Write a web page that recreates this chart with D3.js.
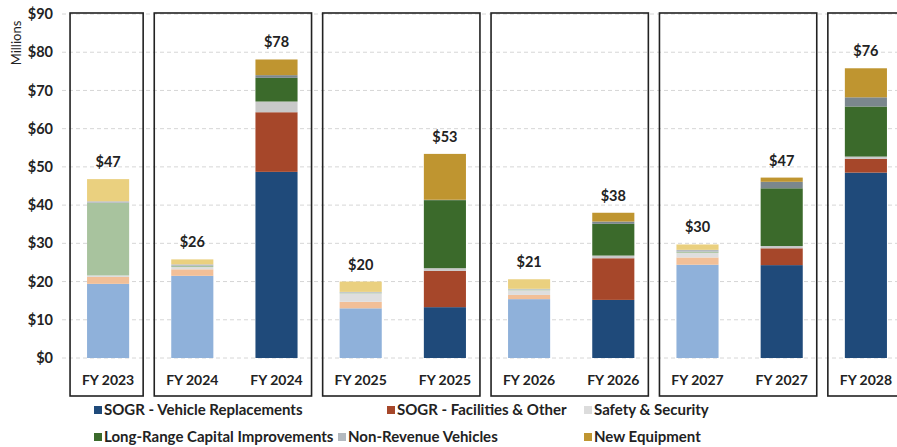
<!DOCTYPE html>
<html>
<head>
<meta charset="utf-8">
<script src="https://cdn.jsdelivr.net/npm/d3@7.9.0/dist/d3.min.js"></script>
<style>
  body { margin: 0; background: #fff; }
  svg { display: block; font-family: Lato, "Open Sans", sans-serif; }
</style>
</head>
<body>
<svg id="chart" width="897" height="447"></svg>
<script>
const categories = ["FY 2023", "FY 2024", "FY 2024", "FY 2025", "FY 2025", "FY 2026", "FY 2026", "FY 2027", "FY 2027", "FY 2028"];
const shade = ["light", "light", "dark", "light", "dark", "light", "dark", "light", "dark", "dark"];
const groups = [[0], [1, 2], [3, 4], [5, 6], [7, 8], [9]];
const series = ["SOGR - Vehicle Replacements", "SOGR - Facilities & Other", "Safety & Security",
  "Long-Range Capital Improvements", "Non-Revenue Vehicles", "New Equipment"];
const vehicleReplacements = [19.4, 21.5, 48.7, 13.0, 13.3, 15.4, 15.2, 24.4, 24.3, 48.5];
const facilitiesOther     = [1.8, 1.7, 15.6, 1.7, 9.5, 1.1, 10.9, 1.9, 4.4, 3.6];
const safetySecurity      = [0.4, 0.6, 2.8, 2.2, 0.7, 1.2, 0.7, 1.2, 0.6, 0.6];
const longRange           = [19.0, 0.3, 6.2, 0.2, 17.8, 0.2, 8.3, 0.3, 15.1, 13.1];
const nonRevenue          = [0.4, 0.4, 0.7, 0.2, 0.1, 0.2, 0.6, 0.5, 1.7, 2.4];
const newEquipment        = [5.8, 1.3, 4.1, 2.7, 12.0, 2.5, 2.3, 1.4, 1.1, 7.6];
const yTicks = [0, 10, 20, 30, 40, 50, 60, 70, 80, 90];

const darkColors  = ["#1f4a7a", "#a6472a", "#c9c9c9", "#3b6a2b", "#7b878d", "#bf9530"];
const lightColors = ["#8fb1da", "#f2bf97", "#dedede", "#a8c39e", "#b3b9bf", "#ead07f"];

const values = [vehicleReplacements, facilitiesOther, safetySecurity, longRange, nonRevenue, newEquipment];
const rows = categories.map((c, i) => {
  const r = { idx: i, label: c, shade: shade[i] };
  series.forEach((s, k) => r[s] = values[k][i]);
  return r;
});

const svg = d3.select("#chart");
const x = d3.scaleBand().domain(d3.range(categories.length)).range([66, 908])
  .paddingInner(0.5).paddingOuter(0.25);
const y = d3.scaleLinear().domain([0, 90]).range([358, 14]);

// gridlines
svg.append("g").selectAll("line").data(yTicks).join("line")
  .attr("x1", 62).attr("x2", 897)
  .attr("y1", d => y(d)).attr("y2", d => y(d))
  .attr("stroke", "#d6d6d6").attr("stroke-dasharray", "4,3");

// y axis
const yAxis = svg.append("g").attr("transform", "translate(56,0)")
  .call(d3.axisLeft(y).tickValues(yTicks).tickFormat(d => "$" + d).tickSize(0).tickPadding(3));
yAxis.select(".domain").remove();
yAxis.selectAll("text").attr("font-size", 14.5).attr("font-weight", "bold").attr("fill", "#222")
  .attr("font-family", "Lato, sans-serif");

svg.append("text").attr("transform", "translate(21,43) rotate(-90)")
  .attr("text-anchor", "middle").attr("font-size", 13).attr("fill", "#222").text("Millions");

// stacked bars
const stack = d3.stack().keys(series)(rows);
svg.append("g").selectAll("g").data(stack).join("g")
  .each(function(layer, k) {
    d3.select(this).selectAll("rect").data(layer).join("rect")
      .attr("x", d => x(d.data.idx))
      .attr("width", x.bandwidth())
      .attr("y", d => y(d[1]))
      .attr("height", d => y(d[0]) - y(d[1]))
      .attr("fill", d => d.data.shade === "dark" ? darkColors[k] : lightColors[k]);
  });

// totals
svg.append("g").selectAll("text").data(rows).join("text")
  .attr("x", d => x(d.idx) + x.bandwidth() / 2)
  .attr("y", d => y(d3.sum(series, s => d[s])) - 12)
  .attr("text-anchor", "middle").attr("font-size", 14.5).attr("font-weight", "bold").attr("fill", "#222")
  .text(d => "$" + Math.round(d3.sum(series, s => d[s])));

// category labels
svg.append("g").selectAll("text").data(rows).join("text")
  .attr("x", d => x(d.idx) + x.bandwidth() / 2).attr("y", 385)
  .attr("text-anchor", "middle").attr("font-size", 14).attr("font-weight", "bold").attr("fill", "#222")
  .text(d => d.label);

// group frames
svg.append("g").selectAll("rect").data(groups).join("rect")
  .attr("x", g => x(g[0]) - 17)
  .attr("y", 13)
  .attr("width", g => x(g[g.length - 1]) + x.bandwidth() + 14 - (x(g[0]) - 17))
  .attr("height", 383)
  .attr("fill", "none").attr("stroke", "#222").attr("stroke-width", 1.6);

// legend
const legendPos = [[94, 410], [387, 410], [584, 410], [94, 437], [338, 437], [584, 437]];
const legend = svg.append("g").selectAll("g").data(series).join("g")
  .attr("transform", (d, i) => `translate(${legendPos[i][0]},${legendPos[i][1]})`);
legend.append("rect").attr("x", 0).attr("y", -4).attr("width", 8).attr("height", 8)
  .attr("fill", (d, i) => i === 2 ? "#dcdcdc" : i === 4 ? "#b3b9bf" : darkColors[i]);
legend.append("text").attr("x", 10).attr("y", 5)
  .attr("font-size", 15).attr("font-weight", "bold").attr("fill", "#222").text(d => d);
</script>
</body>
</html>
